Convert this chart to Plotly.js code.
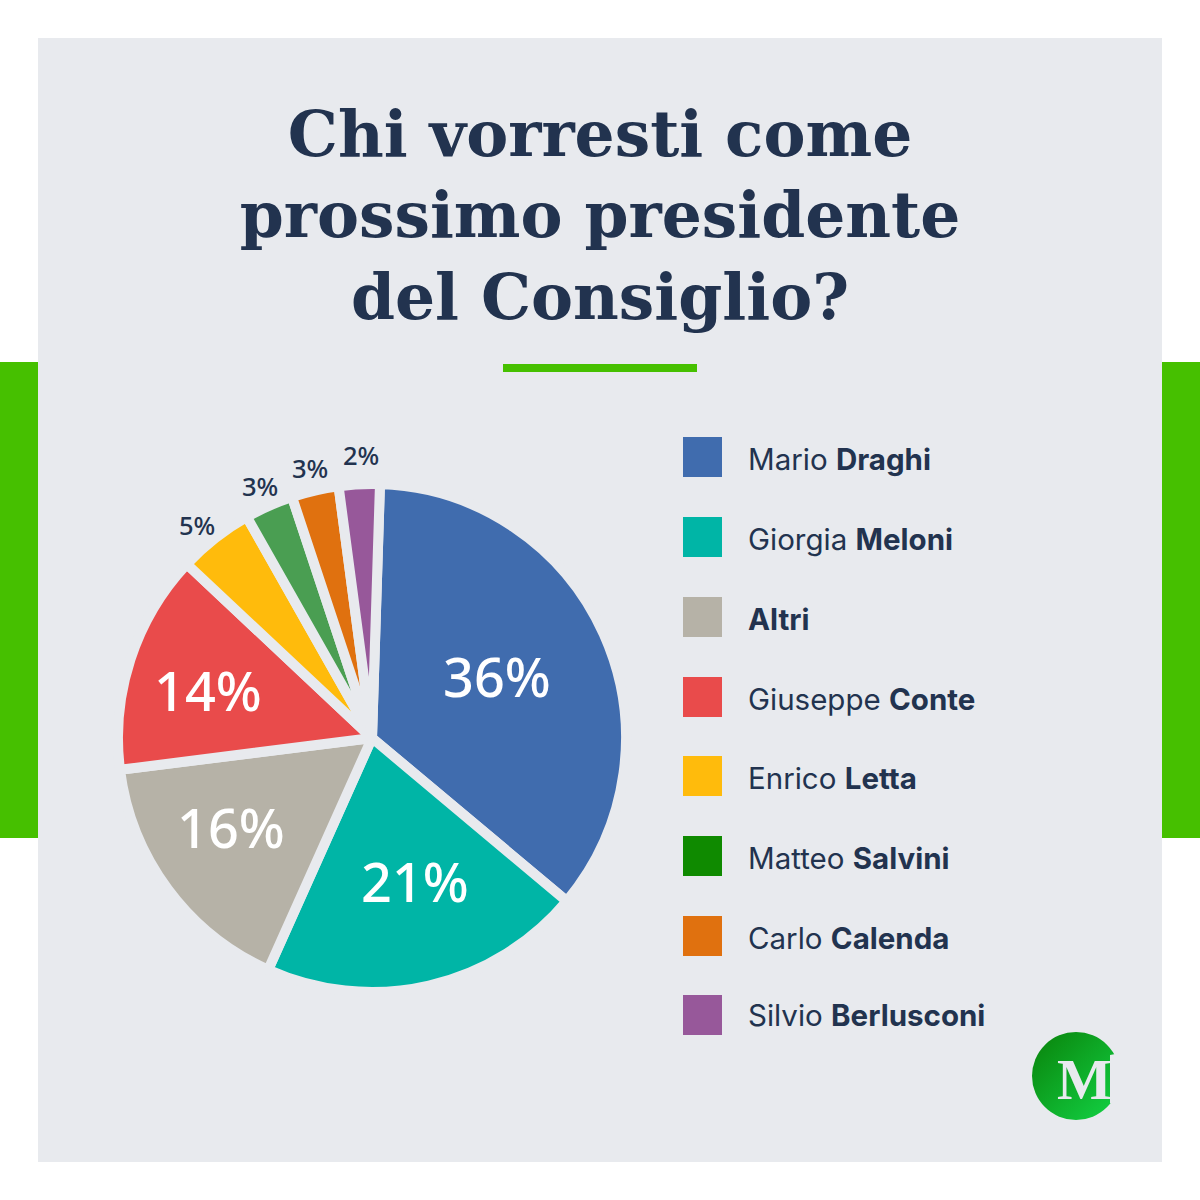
<!DOCTYPE html>
<html><head><meta charset="utf-8">
<script src="https://cdn.plot.ly/plotly-3.0.1.min.js"></script>
<style>html,body{margin:0;padding:0;background:#fff}#c{width:1200px;height:1200px}</style>
</head><body><div id="c"></div>
<script>
const titleText = "Chi vorresti come<br>prossimo presidente<br>del Consiglio?";
const categories = ["Mario Draghi","Giorgia Meloni","Altri","Giuseppe Conte","Enrico Letta","Matteo Salvini","Carlo Calenda","Silvio Berlusconi"];
const values = [35.6,20.6,16.3,14.0,4.8,3.1,3.0,2.6];
const percentLabels = ["36%","21%","16%","14%","5%","3%","3%","2%"];
const sliceColors = ["#406cae","#00b5a6","#b6b2a7","#e94b4b","#ffbb0c","#4a9e52","#e0710f","#97589a"];
const legendColors = ["#406cae","#00b5a6","#b6b2a7","#e94b4b","#ffbb0c","#0f8a00","#e0710f","#97589a"];
const legendFirst = ["Mario ","Giorgia ","","Giuseppe ","Enrico ","Matteo ","Carlo ","Silvio "];
const legendBold = ["Draghi","Meloni","Altri","Conte","Letta","Salvini","Calenda","Berlusconi"];

const BG="#e8eaee", NAVY="#22334f", GREEN="#46c000";
const px=x=>x/1200, py=y=>1-y/1200;
const cx=372, cy=738, R=254, ROT=1.8;
const swatchY=[457,537,617,697,776,856,936,1015];
const legendTextY=[459,539,619,699,778,858,938,1015];
const labelRadius=[139,151,168,170,276,276,277,283];
const labelTurn=[-1.5,-3.5,3.7,-2.3,-1.2,0,0,0.7];

const rect=(x0,y0,x1,y1,c)=>({type:"rect",xref:"paper",yref:"paper",x0:px(x0),x1:px(x1),y0:py(y0),y1:py(y1),fillcolor:c,line:{width:0},layer:"below"});
const shapes=[rect(38,38,1162,1162,BG),rect(0,362,38,838,GREEN),rect(1162,362,1200,838,GREEN),rect(503,364,697,372,GREEN)];
const annotations=[];
legendBold.forEach((b,i)=>{
  shapes.push(rect(683,swatchY[i]-20,722,swatchY[i]+20,legendColors[i]));
  annotations.push({xref:"paper",yref:"paper",x:px(746),y:py(legendTextY[i]),xanchor:"left",yanchor:"middle",showarrow:false,align:"left",
    text:legendFirst[i]+"<b>"+b+"</b>",font:{family:"Inter, sans-serif",size:29.5,color:NAVY}});
});
// percent labels follow each slice's mid-angle
const total=values.reduce((a,b)=>a+b,0);
let acc=0;
values.forEach((v,i)=>{
  const mid=(ROT+labelTurn[i]+(acc+v/2)/total*360)*Math.PI/180; acc+=v;
  const big=v>=10;
  annotations.push({xref:"paper",yref:"paper",x:px(cx+labelRadius[i]*Math.sin(mid)),y:py(cy-labelRadius[i]*Math.cos(mid)-(big?2:0)),xanchor:"center",yanchor:"middle",showarrow:false,
    text:percentLabels[i],font:{family:"Noto Sans, sans-serif",size:big?54:25.5,weight:500,color:big?"#ffffff":NAVY}});
});
annotations.push({xref:"paper",yref:"paper",x:px(1084),y:py(1079),xanchor:"center",yanchor:"middle",showarrow:false,text:"<b>M</b>",font:{family:"Liberation Serif, serif",size:58,color:BG}});

const logo="data:image/svg+xml;utf8,"+encodeURIComponent('<svg xmlns="http://www.w3.org/2000/svg" width="100" height="100" viewBox="0 0 100 100"><defs><linearGradient id="g" x1="0.1" y1="0.1" x2="0.9" y2="0.9"><stop offset="0" stop-color="#0a8a10"/><stop offset="1" stop-color="#12cc40"/></linearGradient></defs><circle cx="50" cy="50" r="44" fill="url(#g)"/><path d="M 84 29 L 100 26 L 100 77 L 84 77 Z" fill="#e8eaee"/></svg>');

Plotly.newPlot("c",[{
  type:"pie",labels:categories,values:values,sort:false,direction:"clockwise",rotation:ROT,
  domain:{x:[px(cx-R),px(cx+R)],y:[py(cy+R),py(cy-R)]},
  marker:{colors:sliceColors,line:{color:BG,width:10}},
  textinfo:"none",automargin:false,showlegend:false,hoverinfo:"label+percent"
}],{
  width:1200,height:1200,margin:{l:0,r:0,t:0,b:0},paper_bgcolor:"#ffffff",showlegend:false,
  title:{text:titleText,font:{family:"DejaVu Serif, serif",size:63,color:NAVY,weight:700},x:0.5,xanchor:"center",xref:"paper",y:py(155.5),yanchor:"middle",yref:"paper"},
  shapes:shapes,annotations:annotations,
  images:[{source:logo,xref:"paper",yref:"paper",x:px(1026),y:py(1026),sizex:100/1200,sizey:100/1200,xanchor:"left",yanchor:"top",layer:"above"}]
},{displayModeBar:false,staticPlot:true});
</script></body></html>
